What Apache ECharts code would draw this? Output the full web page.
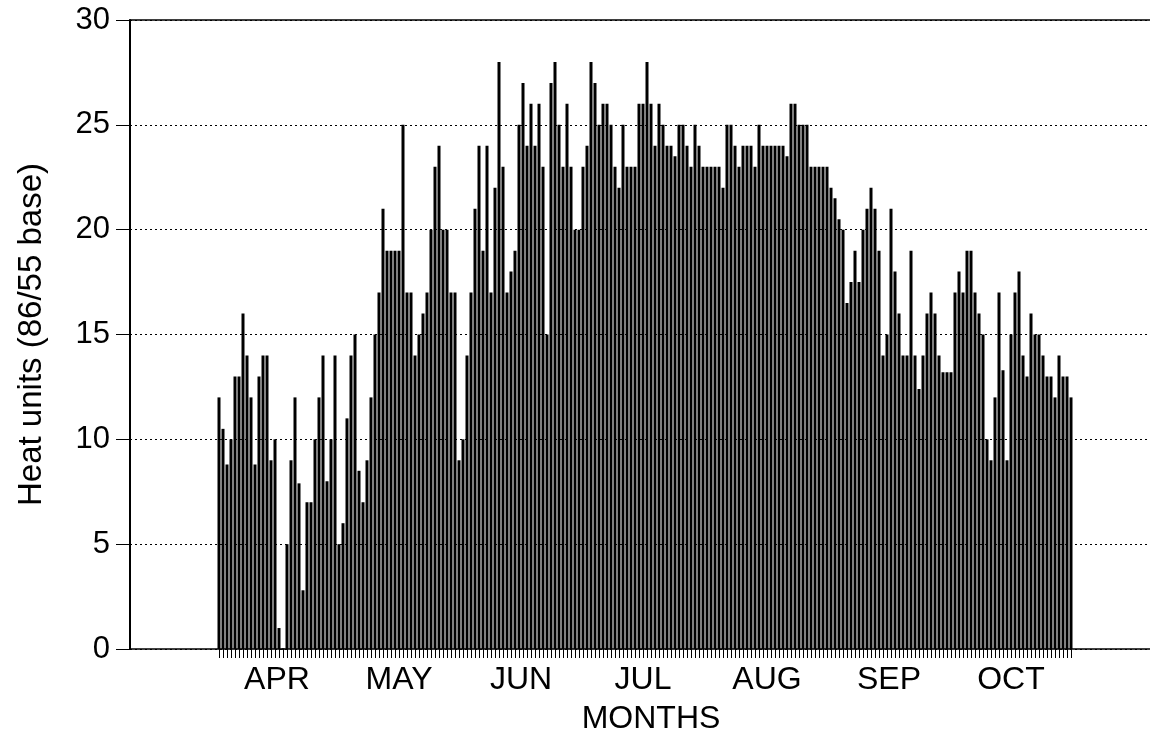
<!DOCTYPE html>
<html>
<head>
<meta charset="utf-8">
<title>Heat units (86/55 base)</title>
<script src="https://cdn.jsdelivr.net/npm/echarts@6/dist/echarts.min.js"></script>
<style>
    html, body { margin: 0; padding: 0; background: #fff; }
    #chart { width: 1150px; height: 740px; }
</style>
</head>
<body>
<div id="chart"></div>
<script>
    // daily heat units, one array per month (Apr 1 .. Oct 31)
    var months = ['APR', 'MAY', 'JUN', 'JUL', 'AUG', 'SEP', 'OCT'];
    var apr = [12, 10.5, 8.8, 10, 13, 13, 16, 14, 12, 8.8, 13, 14, 14, 9, 10, 1, 0, 5, 9, 12, 7.9, 2.8, 7, 7, 10, 12, 14, 8, 10, 14];
    var may = [5, 6, 11, 14, 15, 8.5, 7, 9, 12, 15, 17, 21, 19, 19, 19, 19, 25, 17, 17, 14, 15, 16, 17, 20, 23, 24, 20, 20, 17, 17, 9];
    var jun = [10, 14, 17, 21, 24, 19, 24, 17, 22, 28, 23, 17, 18, 19, 25, 27, 24, 26, 24, 26, 23, 15, 27, 28, 25, 23, 26, 23, 20, 20];
    var jul = [23, 24, 28, 27, 25, 26, 26, 25, 23, 22, 25, 23, 23, 23, 26, 26, 28, 26, 24, 26, 25, 24, 24, 23.5, 25, 25, 24, 23, 25, 24, 23];
    var aug = [23, 23, 23, 23, 22, 25, 25, 24, 23, 24, 24, 24, 23, 25, 24, 24, 24, 24, 24, 24, 23.5, 26, 26, 25, 25, 25, 23, 23, 23, 23, 23];
    var sep = [22, 21.5, 20.5, 20, 16.5, 17.5, 19, 17.5, 20, 21, 22, 21, 19, 14, 15, 21, 18, 16, 14, 14, 19, 14, 12.4, 14, 16, 17, 16, 14, 13.2, 13.2];
    var oct = [13.2, 17, 18, 17, 19, 19, 17, 16, 15, 10, 9, 12, 17, 13.3, 9, 15, 17, 18, 14, 13, 16, 15, 15, 14, 13, 13, 12, 14, 13, 13, 12];
    var yTicks = [0, 5, 10, 15, 20, 25, 30];

    var monthData = [apr, may, jun, jul, aug, sep, oct];
    var days = [], values = [], monthMid = [];
    var start = 0;
    monthData.forEach(function (m) {
        m.forEach(function (v, i) {
            days.push(start + i);
            values.push([start + i, v]);
        });
        monthMid.push(start + (m.length - 1) / 2);
        start += m.length;
    });

    var xMin = -22.25, xMax = 232.75;
    var font = 'Liberation Sans, Arial, Helvetica, sans-serif';

    var chart = echarts.init(document.getElementById('chart'));
    var option = {
        animation: false,
        backgroundColor: '#fff',
        grid: { left: 130, right: 0, top: 20, bottom: 85 },
        xAxis: [{
            type: 'value',
            min: xMin,
            max: xMax,
            name: 'MONTHS',
            nameLocation: 'middle',
            nameGap: 54,
            nameTextStyle: { color: '#000', fontSize: 32, fontFamily: font, padding: [0, 0, 0, 22] },
            axisLine: { show: true, onZero: false, lineStyle: { color: '#000', width: 1.5 } },
            axisTick: { show: true, length: 9, customValues: days, lineStyle: { color: '#000', width: 1 } },
            axisLabel: {
                show: true,
                customValues: monthMid,
                margin: 15,
                color: '#000',
                fontSize: 32,
                fontFamily: font,
                formatter: function (val) {
                    var best = 0;
                    for (var i = 1; i < monthMid.length; ++i)
                        if (Math.abs(monthMid[i] - val) < Math.abs(monthMid[best] - val)) best = i;
                    return months[best];
                }
            },
            splitLine: { show: false }
        }, {
            // solid frame line along the top
            type: 'value',
            position: 'top',
            min: xMin,
            max: xMax,
            axisLine: { show: true, onZero: false, lineStyle: { color: '#000', width: 1.5 } },
            axisTick: { show: false },
            axisLabel: { show: false },
            splitLine: { show: false }
        }],
        yAxis: {
            type: 'value',
            min: yTicks[0],
            max: yTicks[yTicks.length - 1],
            interval: 5,
            name: 'Heat units (86/55 base)',
            nameLocation: 'middle',
            nameRotate: 90,
            nameGap: 82,
            nameTextStyle: { color: '#000', fontSize: 33, fontFamily: font },
            axisLine: { show: true, onZero: false, lineStyle: { color: '#000', width: 2 } },
            axisTick: { show: true, length: 14, lineStyle: { color: '#000', width: 1 } },
            axisLabel: { color: '#000', fontSize: 31, fontFamily: font, margin: 20 },
            splitLine: { show: true, lineStyle: { color: '#000', width: 1, type: [2, 3] } }
        },
        series: [{
            type: 'bar',
            data: values,
            barWidth: 3,
            itemStyle: { color: '#fff', borderColor: '#000', borderWidth: 1.5 }
        }]
    };
    chart.setOption(option);
</script>
</body>
</html>
